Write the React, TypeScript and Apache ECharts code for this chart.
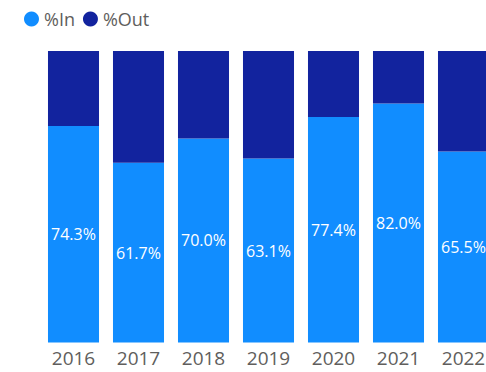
import React, { useEffect, useRef } from "react";
import * as echarts from "echarts";

const years = ["2016", "2017", "2018", "2019", "2020", "2021", "2022"];
const pctIn = [74.3, 61.7, 70.0, 63.1, 77.4, 82.0, 65.5];
const pctOut = [25.7, 38.3, 30.0, 36.9, 22.6, 18.0, 34.5];

const FONT = "'Segoe UI', 'Open Sans', 'Noto Sans', sans-serif";

export default function App() {
  const ref = useRef<HTMLDivElement>(null);
  useEffect(() => {
    if (!ref.current) return;
    const chart = echarts.init(ref.current, undefined, { renderer: "svg" });
    chart.setOption({
      animation: false,
      textStyle: { fontFamily: FONT },
      legend: {
        left: 24,
        top: 5,
        padding: [5, 0, 5, 0],
        icon: "circle",
        itemWidth: 15,
        itemHeight: 15,
        itemGap: 8,
        itemTextGap: 2,
        textStyle: { fontSize: 18, color: "#605E5C", fontFamily: FONT },
        data: ["%In", "%Out"],
      },
      grid: {
        left: 41,
        width: 455,
        top: 51,
        bottom: 29.5,
        containLabel: false,
        outerBoundsMode: "none",
      },
      xAxis: {
        type: "category",
        data: years,
        axisLine: { show: false },
        axisTick: { show: false },
        axisLabel: { fontSize: 19, color: "#605E5C", margin: 6, fontFamily: FONT },
      },
      yAxis: { type: "value", min: 0, max: 100, show: false, splitLine: { show: false } },
      series: [
        {
          name: "%In",
          type: "bar",
          stack: "total",
          data: pctIn,
          barCategoryGap: "21.5%",
          itemStyle: { color: "#118DFF" },
          label: {
            show: true,
            position: "inside",
            color: "#FFFFFF",
            fontSize: 16,
            fontFamily: FONT,
            formatter: (p: any) => `${Number(p.value).toFixed(1)}%`,
          },
        },
        {
          name: "%Out",
          type: "bar",
          stack: "total",
          data: pctOut,
          barCategoryGap: "21.5%",
          itemStyle: { color: "#12239E" },
        },
      ],
    });
    return () => chart.dispose();
  }, []);
  return (
    <div
      ref={ref}
      style={{ position: "fixed", left: 0, top: 0, width: 486, height: 372, background: "#fff" }}
    />
  );
}
